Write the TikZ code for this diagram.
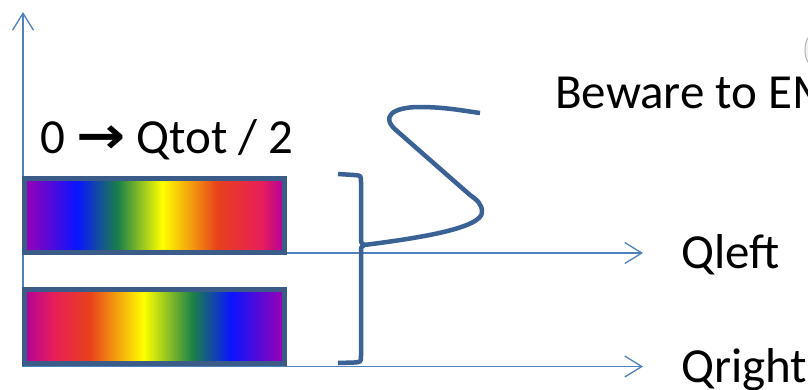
\documentclass[tikz,border=0pt]{standalone}
\usepackage{fontspec}
\setmainfont{Carlito}
\newfontfamily\symfont{DejaVu Sans}
\usetikzlibrary{arrows.meta}
\definecolor{axisblue}{HTML}{4F81BD}
\definecolor{boxedge}{HTML}{3B5C88}
\definecolor{braceblue}{HTML}{3A6295}
\definecolor{specpurple}{HTML}{9C00B4}
\definecolor{specblue}{HTML}{0A14FF}
\definecolor{specgreen}{HTML}{1A8048}
\definecolor{specyellow}{HTML}{FFFF00}
\definecolor{specred}{HTML}{E8401C}
\definecolor{specpink}{HTML}{E81E5A}
\definecolor{specmag}{HTML}{B0009C}
\pgfdeclarehorizontalshading{spectrumA}{100bp}{color(0bp)=(specpurple); color(25bp)=(specpurple); color(35.2bp)=(specblue); color(43.1bp)=(specgreen); color(51.6bp)=(specyellow); color(62.2bp)=(specred); color(70.7bp)=(specpink); color(75bp)=(specmag); color(100bp)=(specmag)}
\pgfdeclarehorizontalshading{spectrumB}{100bp}{color(0bp)=(specmag); color(25bp)=(specmag); color(30.7bp)=(specpink); color(37.6bp)=(specred); color(48bp)=(specyellow); color(57.5bp)=(specgreen); color(64.8bp)=(specblue); color(75bp)=(specpurple); color(100bp)=(specpurple)}
\tikzset{
  axisline/.style={draw=axisblue, line width=1.3pt, -{Straight Barb[length=17pt,width=21pt,line width=1.3pt]}},
  specbox/.style={draw=boxedge, line width=5pt, minimum width=260pt, inner sep=0pt},
  bracestroke/.style={draw=braceblue, line width=4.5pt, line join=round},
  lbl/.style={font=\fontsize{49}{58}\selectfont, inner sep=0pt, anchor=base west, text=black}
}
\begin{document}
\begin{tikzpicture}[x=1pt,y=-1pt]
\useasboundingbox (0,0) rectangle (808,389);
\clip (0,0) rectangle (808,389);
\fill[white] (0,0) rectangle (808,389);

% axes
\coordinate (origin) at (23,366.5);
\coordinate (yTip) at (23,12);
\coordinate (qrTip) at (643,366.5);
\coordinate (qlStart) at (286,253);
\coordinate (qlTip) at (643,253);
\draw[axisline] (origin) -- (yTip);
\draw[axisline] (origin) -- (qrTip);
\draw[axisline] (qlStart) -- (qlTip);

% spectrum bars
\node[specbox, minimum height=74pt, shading=spectrumA] (barA) at (154,215.5) {};
\node[specbox, minimum height=74.5pt, shading=spectrumB] (barB) at (154,326.3) {};

% labels
\node[lbl] (range) at (40,153) {0 {\symfont\bfseries\scalebox{1.2}[1.05]{→}} Qtot / 2};
\node[lbl] (warn) at (555,108) {Beware to EM};
\node[lbl] (qleft) at (681,268) {Qleft};
\node[lbl] (qright) at (681,382) {Qright};

% brace
\coordinate (braceMid) at (364,245);
\draw[bracestroke] (338,174) -- (354,175) .. controls (361,175.5) .. (361,182) -- (361,238) .. controls (361,243) .. (braceMid) .. controls (361,247) .. (361,252) -- (361,356) .. controls (361,362) .. (354,362.5) -- (338,363);

% S stroke
\draw[bracestroke] (braceMid) .. controls (420,238) and (482,228) .. (482,212) .. controls (482,204) and (477,200) .. (470,195) -- (397,131) .. controls (380,117) and (392,107) .. (420,107) .. controls (445,107) and (465,111) .. (480,113);

% fragment of an image at the top right edge
\draw[gray!60, fill=gray!10, line width=1pt] (812,50) ellipse (7pt and 15pt);
\end{tikzpicture}
\end{document}
